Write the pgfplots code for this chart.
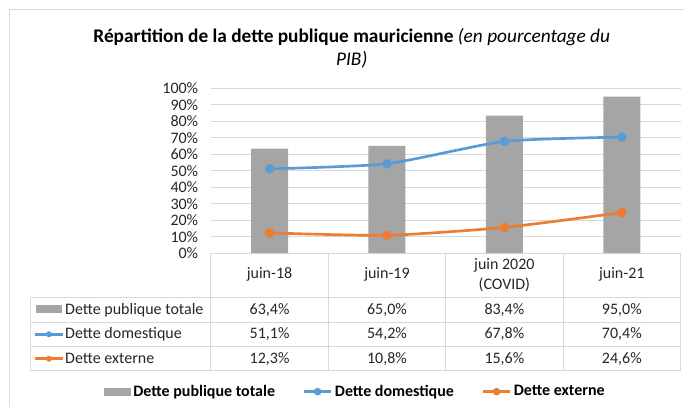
\documentclass[border=0pt]{standalone}
\usepackage{pgfplots}
\pgfplotsset{compat=1.18}
\usepackage{fontspec}
\setmainfont{Carlito}
\definecolor{cbar}{HTML}{A5A5A5}
\definecolor{cblue}{HTML}{5B9BD5}
\definecolor{corange}{HTML}{ED7D31}
\definecolor{cgrid}{HTML}{D9D9D9}
\definecolor{ctext}{HTML}{262626}
\begin{document}
\begin{tikzpicture}
\begin{scope}[x=0.75pt,y=-0.75pt]
\path (0,0) rectangle (684,407);
\draw[cgrid, line width=0.75pt] (10,407) -- (10,10) -- (684,10);
% title
\node[align=center, font=\fontsize{14.5}{17.5}\selectfont, text=black] at (352,48)
  {\textbf{Répartition de la dette publique mauricienne} \textit{(en pourcentage du}\\ \textit{PIB)}};
% table grid
\begin{scope}[draw=cgrid, line width=0.75pt]
\draw (211,253.3) -- (681,253.3);
\foreach \yy in {298,322.5,347,371} \draw (31,\yy) -- (681,\yy);
\draw (31,298) -- (31,371);
\foreach \xx in {211,328.5,446,563.5,681} \draw (\xx,253.3) -- (\xx,371);
\end{scope}
% header
\begin{scope}[font=\fontsize{12}{15}\selectfont, text=ctext]
\node at (269.75,275) {juin-18};
\node at (387.25,275) {juin-19};
\node[align=center] at (504.75,275) {juin 2020\\(COVID)};
\node at (622.25,275) {juin-21};
% rows
\node at (269.75,310) {63,4\%};
\node at (387.25,310) {65,0\%};
\node at (504.75,310) {83,4\%};
\node at (622.25,310) {95,0\%};
\node at (269.75,334.5) {51,1\%};
\node at (387.25,334.5) {54,2\%};
\node at (504.75,334.5) {67,8\%};
\node at (622.25,334.5) {70,4\%};
\node at (269.75,359) {12,3\%};
\node at (387.25,359) {10,8\%};
\node at (504.75,359) {15,6\%};
\node at (622.25,359) {24,6\%};
\node[anchor=west, inner sep=0pt] at (65,310) {Dette publique totale};
\node[anchor=west, inner sep=0pt] at (65,334.5) {Dette domestique};
\node[anchor=west, inner sep=0pt] at (65,359) {Dette externe};
\end{scope}
\fill[cbar] (36,305.5) rectangle (62,313.5);
\draw[cblue, line width=2pt] (35,334.5) -- (63,334.5);
\fill[cblue] (49,334.5) circle (3);
\draw[corange, line width=2pt] (35,359) -- (63,359);
\fill[corange] (49,359) circle (3);
\end{scope}
\begin{axis}[
  at={(158.25pt,-190pt)}, anchor=south west,
  scale only axis, width=352.5pt, height=123.75pt,
  xmin=-0.5, xmax=3.5, ymin=0, ymax=100,
  axis line style={draw=none},
  xtick=\empty,
  ytick={0,10,...,100},
  yticklabel={\pgfmathprintnumber{\tick}\%},
  /pgf/number format/assume math mode=true,
  yticklabel style={font=\fontsize{12}{14}\selectfont, text=ctext, xshift=-6pt},
  major tick length=0pt,
  ymajorgrids, grid style={cgrid, line width=0.75pt},
  clip=false,
  legend columns=3,
  legend style={at={(axis description cs:0.3085,-0.84)}, anchor=center, draw=none,
    font=\fontsize{12}{14}\selectfont\bfseries, text=black,
    /tikz/every even column/.append style={column sep=19pt}},
]
\addplot[ybar, bar width=27.75pt, fill=cbar, draw=none,
  legend image code/.code={\fill[cbar] (0pt,-3pt) rectangle (20pt,3pt);}]
  coordinates {(0,63.4) (1,65.0) (2,83.4) (3,95.0)};
\addlegendentry{Dette publique totale}
\addplot[cblue, line width=2pt, smooth, tension=0.35, mark=*, mark size=2.5pt,
  legend image code/.code={\draw[cblue, line width=2pt] (0pt,0pt) -- (20pt,0pt); \fill[cblue] (10pt,0pt) circle (1.8pt);}]
  coordinates {(0,51.1) (1,54.2) (2,67.8) (3,70.4)};
\addlegendentry{Dette domestique}
\addplot[corange, line width=2pt, smooth, tension=0.35, mark=*, mark size=2.5pt,
  legend image code/.code={\draw[corange, line width=2pt] (0pt,0pt) -- (20pt,0pt); \fill[corange] (10pt,0pt) circle (1.8pt);}]
  coordinates {(0,12.3) (1,10.8) (2,15.6) (3,24.6)};
\addlegendentry{Dette externe}
\end{axis}
\end{tikzpicture}
\end{document}
